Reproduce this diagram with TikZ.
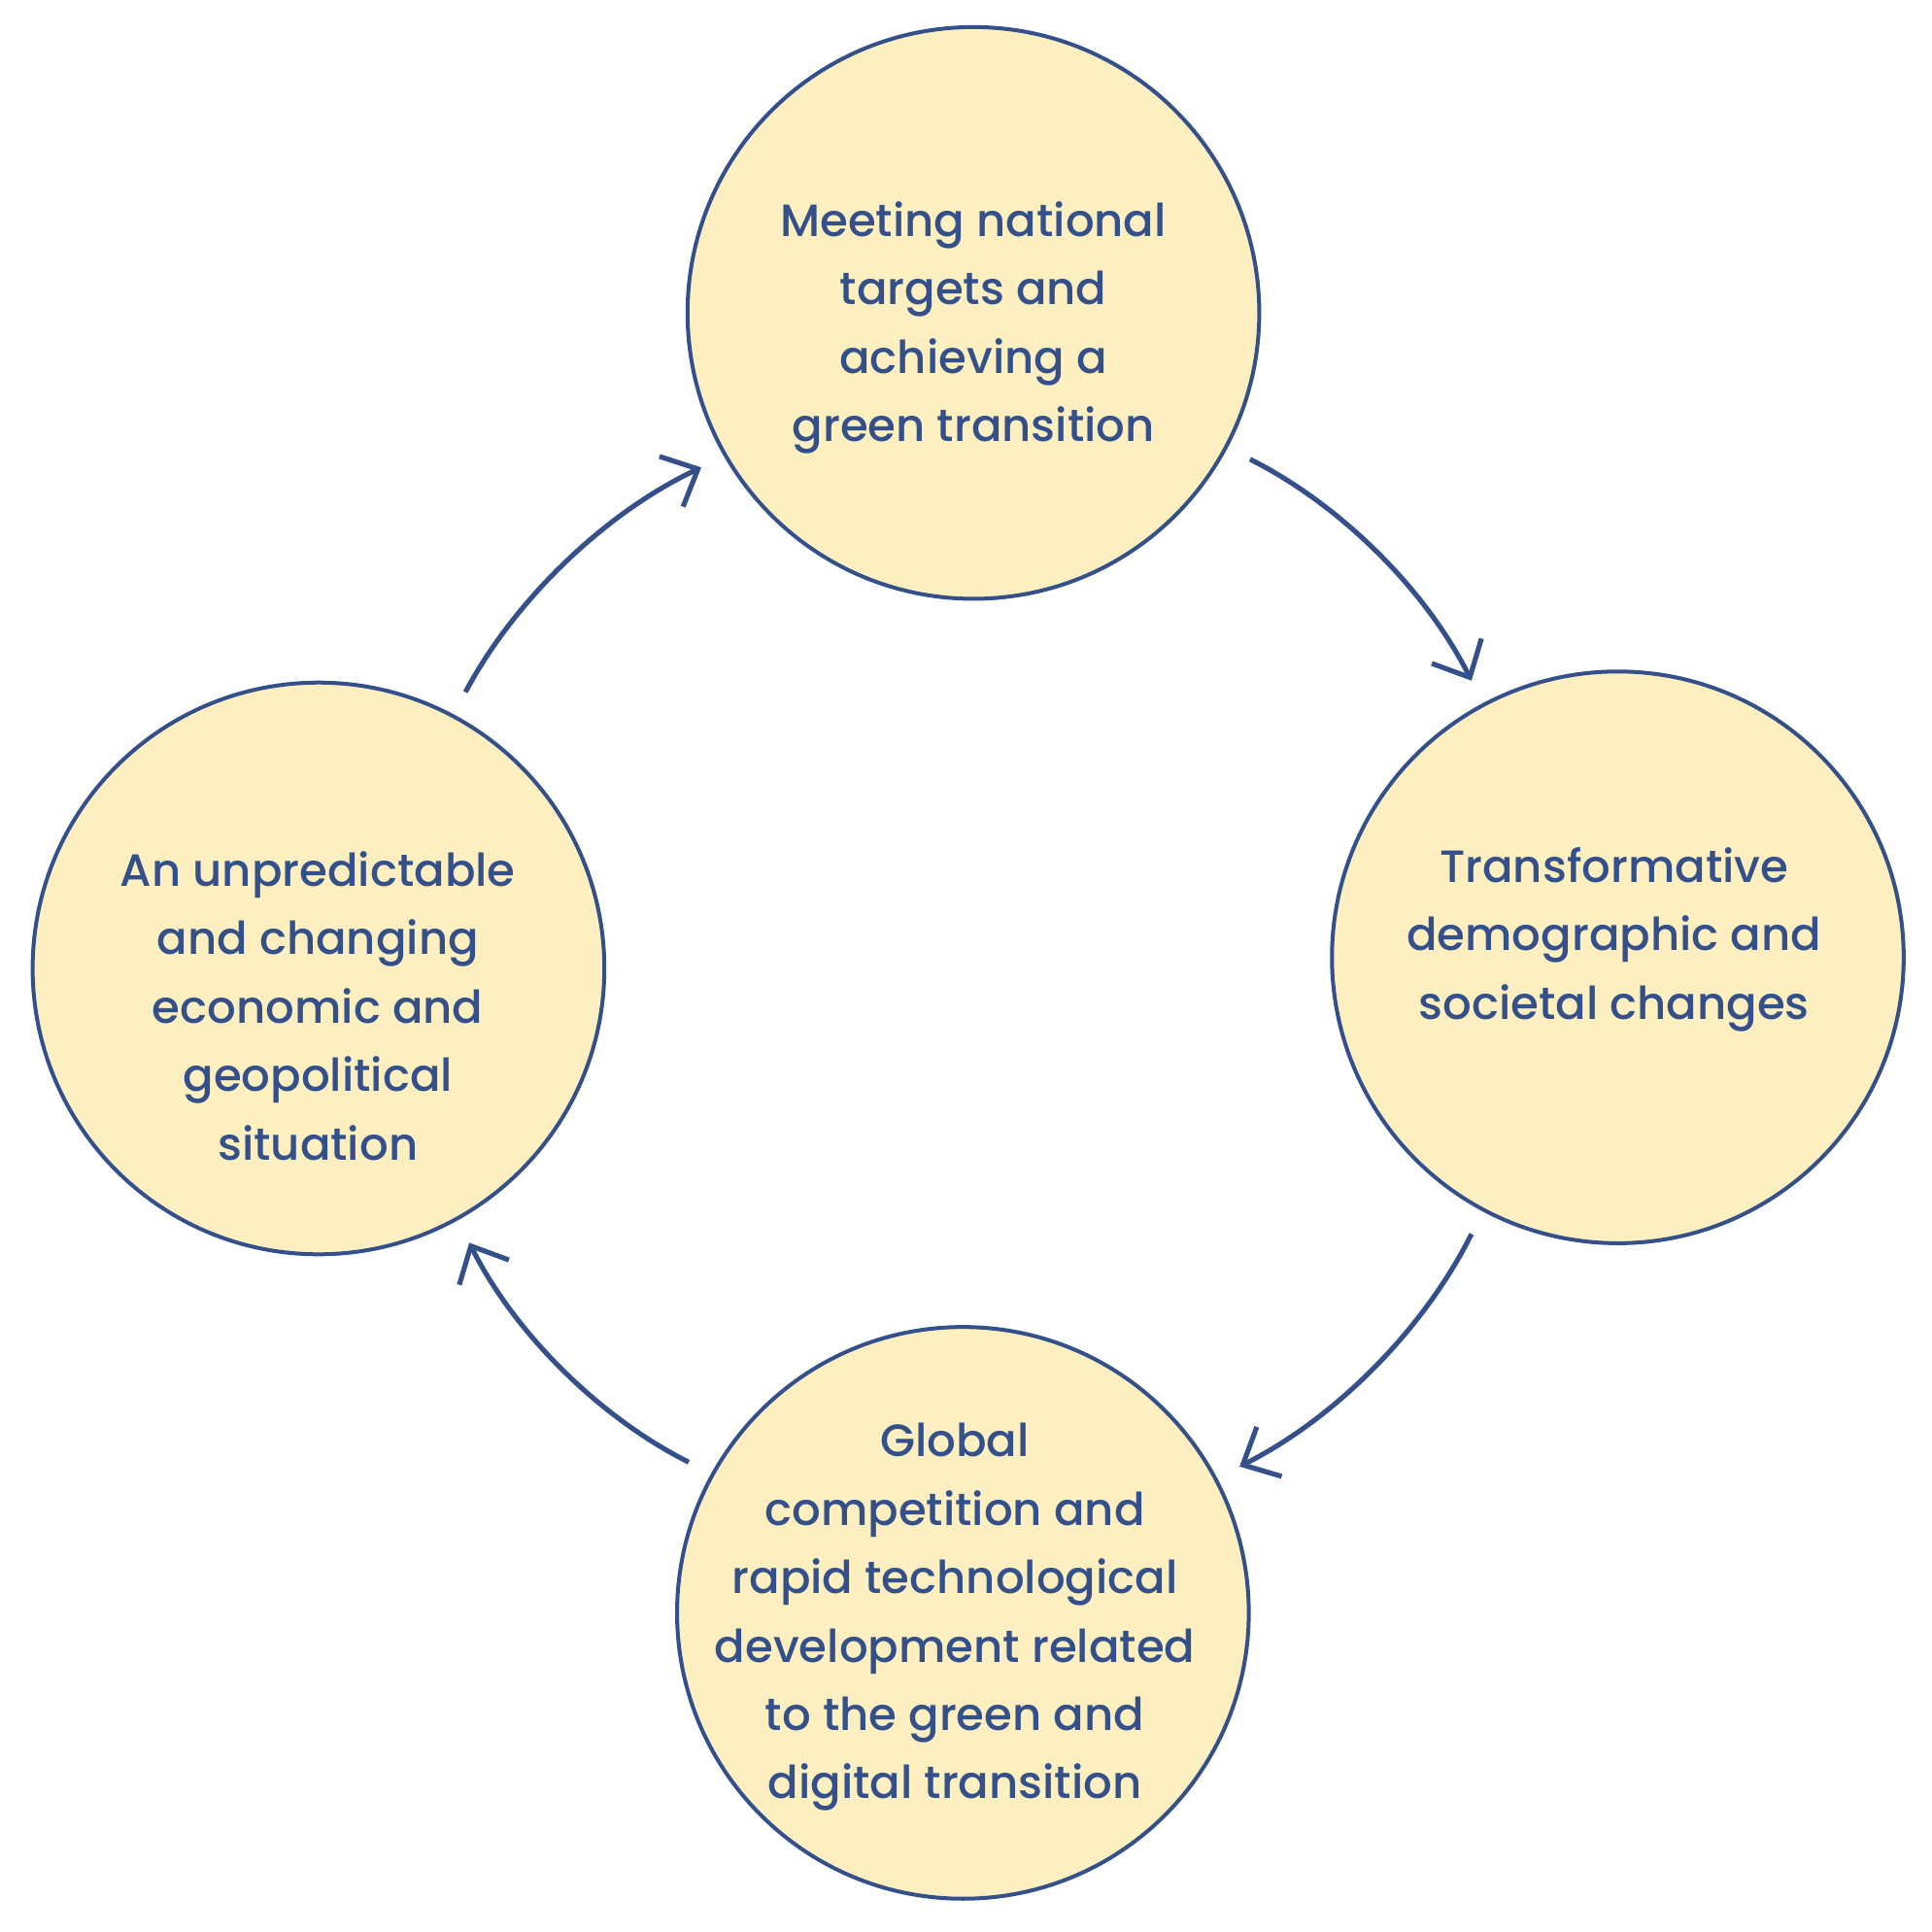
\documentclass[tikz,border=0pt]{standalone}
\usepackage{fontspec}
\setmainfont{Poppins}[UprightFont={* Medium}]
\usepackage{tikz}
\usetikzlibrary{arrows.meta,positioning}
\definecolor{inkblue}{HTML}{34508A}
\definecolor{paleyellow}{HTML}{FDEFC0}

\begin{document}
\begin{tikzpicture}[
  >={Straight Barb[length=2.4mm, width=4.5mm]},
  topic/.style={circle, draw=inkblue, line width=0.9pt, fill=paleyellow, minimum size=4.64cm, inner sep=0pt, outer sep=0pt},
  caption/.style={text=inkblue, font=\fontsize{10.45}{15.8}\selectfont, align=center},
  arrow/.style={->, line width=1.15pt, inkblue, shorten <=2.2mm, shorten >=2.2mm, looseness=0.9}
]
\useasboundingbox (0,0) rectangle (15.68,15.68);

\node[topic] (green) at (7.90,13.14) {};
\node[topic] (demo) at (13.13,7.91) {};
\node[topic] (global) at (7.815,2.59) {};
\node[topic] (unpred) at (2.585,7.82) {};

\node[caption] (green-text) at (7.90,13.02) {Meeting national\\targets and\\achieving a\\green transition};
\node[caption] (demo-text) at (13.10,8.055) {Transformative\\demographic and\\societal changes};
\node[caption] (global-text) at (7.75,2.555) {Global\\competition and\\rapid technological\\development related\\to the green and\\digital transition};
\node[caption] (unpred-text) at (2.58,7.515) {An unpredictable\\and changing\\economic and\\geopolitical\\situation};

\draw[arrow] (green.-28.7) to[bend left=18.4] (demo.118.7);
\draw[arrow] (demo.-118.7) to[bend left=18.4] (global.28.7);
\draw[arrow] (global.151.3) to[bend left=18.4] (unpred.-61.3);
\draw[arrow] (unpred.62.5) to[bend left=18.4] (green.-150);

\end{tikzpicture}
\end{document}
